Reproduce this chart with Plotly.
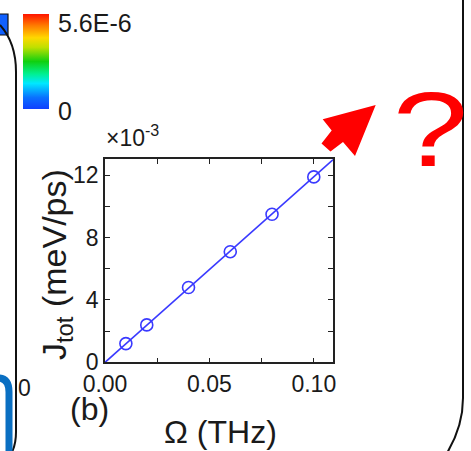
import plotly.graph_objects as go

# ---------------- data ----------------
omega_thz = [0.01, 0.02, 0.04, 0.06, 0.08, 0.10]
j_tot_e3 = [1.2, 2.4, 4.8, 7.1, 9.5, 11.9]          # J_tot in units of 1e-3 meV/ps
fit_x = [0.0, 0.11]
fit_y = [0.0, 13.1]
x_ticks = [0.0, 0.05, 0.10]
x_ticklabels = ["0.00", "0.05", "0.10"]
y_ticks = [0, 4, 8, 12]
y_ticklabels = ["0", "4", "8", "12"]
cbar_min, cbar_max = 0.0, 5.6e-6
cbar_labels = ["0", "5.6E-6"]

W, H = 471, 451
FONT = "Liberation Sans, Arial, sans-serif"
BLUE = "#3a3aff"
TXT = "#1a1a1a"


def px(x):
    return x / W


def py(y):
    return 1 - y / H


def path(points, close=False):
    s = "M " + " L ".join(f"{px(x):.5f},{py(y):.5f}" for x, y in points)
    return s + (" Z" if close else "")


fig = go.Figure()

fig.add_trace(go.Scatter(
    x=fit_x, y=fit_y, mode="lines",
    line=dict(color=BLUE, width=1.6), hoverinfo="skip", showlegend=False))
fig.add_trace(go.Scatter(
    x=omega_thz, y=j_tot_e3, mode="markers",
    marker=dict(symbol="circle-open", size=12, color=BLUE, line=dict(width=1.6, color=BLUE)),
    showlegend=False))

# colorbar (dummy invisible trace)
rainbow = [[0.0, "#1040ff"], [0.12, "#0a70ff"], [0.27, "#00e8ff"], [0.37, "#00f090"],
           [0.5, "#10d010"], [0.65, "#c0e000"], [0.75, "#ffd800"], [0.88, "#ff7a00"],
           [1.0, "#ff1400"]]
fig.add_trace(go.Scatter(
    x=[None], y=[None], mode="markers", showlegend=False, hoverinfo="skip",
    marker=dict(color=[cbar_min, cbar_max], cmin=cbar_min, cmax=cbar_max,
                colorscale=rainbow, showscale=True,
                colorbar=dict(x=px(22.5), xanchor="left", y=py(14), yanchor="top",
                              thickness=26, thicknessmode="pixels",
                              len=95, lenmode="pixels", xpad=0, ypad=0,
                              outlinewidth=0, showticklabels=False, ticks=""))))

axis_common = dict(showline=True, linecolor="#222", linewidth=1.5, mirror="allticks",
                   ticks="inside", ticklen=5, tickwidth=1.2, tickcolor="#222",
                   showgrid=False, zeroline=False,
                   tickfont=dict(family=FONT, size=23, color=TXT))

fig.update_layout(
    width=W, height=H, autosize=False,
    margin=dict(l=0, r=0, t=0, b=0, autoexpand=False),
    paper_bgcolor="white", plot_bgcolor="white",
    xaxis=dict(domain=[px(105), px(333)], range=[0, 0.1092],
               tickvals=x_ticks, ticktext=x_ticklabels,
               minor=dict(ticks="inside", dtick=0.025, tick0=0, ticklen=5, tickcolor="#222"),
               **axis_common),
    yaxis=dict(domain=[py(362.3), py(159.3)], range=[0, 13.03],
               tickvals=y_ticks, ticktext=y_ticklabels,
               minor=dict(ticks="inside", dtick=2, tick0=0, ticklen=5, tickcolor="#222"),
               **axis_common),
)

ann = []
ann.append(dict(x=px(220), y=py(432), text="Ω (THz)", font=dict(family=FONT, size=32, color=TXT)))
ann.append(dict(x=px(56), y=py(265), text="J<sub>tot</sub> (meV/ps)", textangle=-90,
                font=dict(family=FONT, size=34, color=TXT)))
ann.append(dict(x=px(89), y=py(409), text="(b)", font=dict(family=FONT, size=32, color=TXT)))
ann.append(dict(x=px(104), y=py(136), xanchor="left", text="×10<sup>-3</sup>",
                font=dict(family=FONT, size=23, color=TXT)))
ann.append(dict(x=px(56), y=py(23), xanchor="left", text=cbar_labels[1],
                font=dict(family=FONT, size=25, color=TXT)))
ann.append(dict(x=px(56), y=py(111), xanchor="left", text=cbar_labels[0],
                font=dict(family=FONT, size=25, color=TXT)))
ann.append(dict(x=px(16), y=py(388), xanchor="left", text="0",
                font=dict(family=FONT, size=23, color=TXT)))
ann.append(dict(x=px(430), y=py(129), text="?",
                font=dict(family=FONT, size=106, color="#ff0000")))
for a in ann:
    a.update(xref="paper", yref="paper", showarrow=False)
    a.setdefault("xanchor", "center")
    a.setdefault("yanchor", "middle")
fig.update_layout(annotations=ann)

shapes = []
# red arrow
arrow = [(375.7, 105), (322.7, 119.3), (331.7, 130.5), (321.5, 143.5), (330.5, 151.5),
         (343.0, 142.0), (355.0, 156.0)]
shapes.append(dict(type="path", path=path(arrow, close=True), fillcolor="#ff0000",
                   line=dict(width=0)))
# blue square fragment (top-left)
shapes.append(dict(type="rect", x0=px(-2), x1=px(8), y0=py(35), y1=py(14),
                   fillcolor="#1060ff", line=dict(color="#111", width=1.2)))
# left black frame edge
shapes.append(dict(type="path",
                   path=f"M {px(0)},{py(25)} C {px(9)},{py(35)} {px(16)},{py(50)} {px(16)},{py(72)} "
                        f"L {px(16)},{py(432)} Q {px(16)},{py(444)} {px(12)},{py(452)}",
                   line=dict(color="#111", width=2)))
# bottom-left blue rounded frame
shapes.append(dict(type="path",
                   path=f"M {px(-2)},{py(378)} Q {px(9)},{py(378)} {px(9)},{py(392)} L {px(9)},{py(453)}",
                   line=dict(color="#0a6fc2", width=7)))
# right black frame edge
shapes.append(dict(type="path",
                   path=f"M {px(463)},{py(-2)} L {px(463)},{py(398)} "
                        f"C {px(463)},{py(420)} {px(456)},{py(438)} {px(447)},{py(453)}",
                   line=dict(color="#111", width=2)))
for s in shapes:
    s.update(xref="paper", yref="paper", layer="above")
fig.update_layout(shapes=shapes)

post = """
document.body.style.margin='0';
document.body.style.overflow='hidden';
document.querySelectorAll('text.annotation-text').forEach(function(t){
  if (t.textContent.trim() === '?') {
    t.style.transformBox = 'fill-box';
    t.style.transformOrigin = 'center';
    t.style.transform = 'scaleX(1.28)';
  }
});
"""
fig.write_html("out.html", config={"displayModeBar": False}, post_script=post)
